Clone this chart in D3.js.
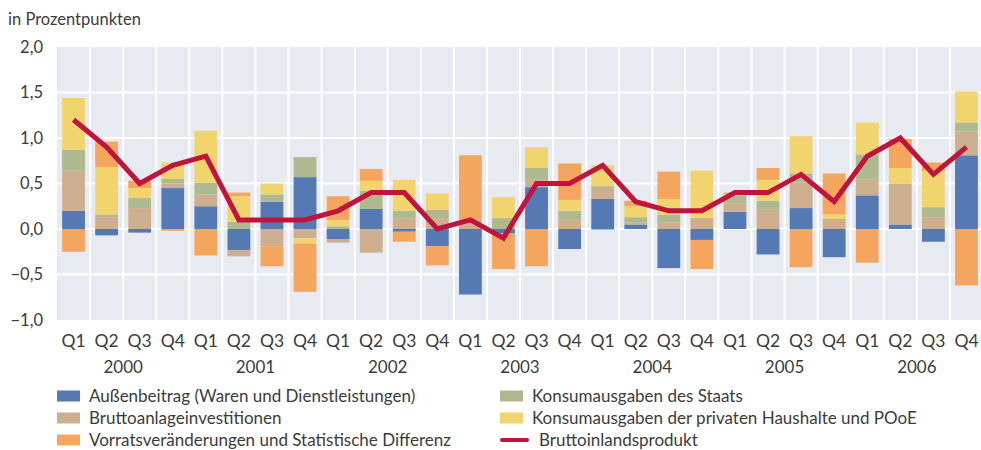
<!DOCTYPE html>
<html>
<head>
<meta charset="utf-8">
<script src="https://cdn.jsdelivr.net/npm/d3@7"></script>
<style>
  body { margin: 0; background: #fff; }
  svg text { font-family: Lato, "Open Sans", sans-serif; fill: #3c3c3c; }
</style>
</head>
<body>
<div id="chart"></div>
<script>
// Wachstumsbeiträge zum BIP, in Prozentpunkten
var years = ["2000", "2001", "2002", "2003", "2004", "2005", "2006"];
var quarters = ["Q1", "Q2", "Q3", "Q4"];

var aussenbeitrag = [0.20, -0.07, -0.04, 0.45, 0.25, -0.23, 0.30, 0.57, -0.11, 0.22, -0.03, -0.19, -0.72, -0.05, 0.46, -0.22, 0.33, 0.05, -0.43, -0.12, 0.19, -0.28, 0.23, -0.31, 0.37, 0.05, -0.14, 0.81];
var bruttoanlage  = [0.44, 0.13, 0.23, 0.05, 0.13, -0.07, -0.19, -0.10, -0.04, -0.26, 0.12, 0.12, 0.10, 0.00, 0.08, 0.10, 0.12, 0.02, 0.07, 0.12, 0.09, 0.21, 0.28, 0.10, 0.17, 0.45, 0.13, 0.26];
var staat         = [0.23, 0.03, 0.11, 0.05, 0.13, 0.08, 0.08, 0.22, 0.03, 0.20, 0.08, 0.09, 0.00, 0.12, 0.13, 0.10, 0.02, 0.06, 0.09, 0.00, 0.09, 0.10, 0.10, 0.01, 0.28, 0.00, 0.11, 0.10];
var privat        = [0.57, 0.52, 0.11, 0.18, 0.57, 0.28, 0.12, -0.06, 0.07, 0.11, 0.34, 0.18, 0.00, 0.23, 0.23, 0.12, 0.23, 0.12, 0.17, 0.52, 0.01, 0.23, 0.41, 0.05, 0.35, 0.17, 0.40, 0.34];
var vorrat        = [-0.25, 0.28, 0.08, -0.02, -0.29, 0.04, -0.22, -0.53, 0.26, 0.13, -0.11, -0.21, 0.71, -0.39, -0.41, 0.40, -0.01, 0.06, 0.30, -0.32, 0.02, 0.13, -0.42, 0.45, -0.37, 0.32, 0.09, -0.62];
var bip           = [1.2, 0.9, 0.5, 0.7, 0.8, 0.1, 0.1, 0.1, 0.2, 0.4, 0.4, 0.0, 0.1, -0.1, 0.5, 0.5, 0.7, 0.3, 0.2, 0.2, 0.4, 0.4, 0.6, 0.3, 0.8, 1.0, 0.6, 0.9];

var yTicks = [-1, -0.5, 0, 0.5, 1, 1.5, 2];

var series = [
    {key: "aussen", name: "Außenbeitrag (Waren und Dienstleistungen)", color: "#5479b3", values: aussenbeitrag},
    {key: "anlage", name: "Bruttoanlageinvestitionen", color: "#cdaf8f", values: bruttoanlage},
    {key: "staat", name: "Konsumausgaben des Staats", color: "#aeb98f", values: staat},
    {key: "privat", name: "Konsumausgaben der privaten Haushalte und POoE", color: "#f2d46e", values: privat},
    {key: "vorrat", name: "Vorratsveränderungen und Statistische Differenz", color: "#f4a55e", values: vorrat}
];

var width = 981, height = 450;
var margin = {top: 47, left: 57, right: -2, bottom: 130};
var chartWidth = width - margin.left - margin.right;
var chartHeight = height - margin.top - margin.bottom;

// one row per quarter
var rows = [];
years.forEach(function(y, yi) {
    quarters.forEach(function(q, qi) {
        var i = yi * 4 + qi;
        var row = {id: y + q, year: y, q: q, bip: bip[i]};
        series.forEach(function(s) { row[s.key] = s.values[i]; });
        rows.push(row);
    });
});

var svg = d3.select("#chart").append("svg")
    .attr("width", width)
    .attr("height", height);

var x = d3.scaleBand()
    .domain(rows.map(function(d) { return d.id; }))
    .range([margin.left, margin.left + chartWidth])
    .paddingInner(0.31)
    .paddingOuter(0.155);

var y = d3.scaleLinear()
    .domain([-1, 2])
    .range([margin.top + chartHeight, margin.top]);

// plot background
svg.append("rect")
    .attr("x", margin.left)
    .attr("y", margin.top)
    .attr("width", chartWidth)
    .attr("height", chartHeight)
    .attr("fill", "#e8eaf2");

var grid = svg.append("g").attr("class", "grid");

grid.selectAll("line.h")
    .data(yTicks.slice(1, -1))
    .enter().append("line")
    .attr("class", "h")
    .attr("x1", margin.left)
    .attr("x2", margin.left + chartWidth)
    .attr("y1", function(d) { return y(d); })
    .attr("y2", function(d) { return y(d); })
    .attr("stroke", "#fff")
    .attr("stroke-width", 2);

grid.selectAll("line.v")
    .data(d3.range(1, rows.length))
    .enter().append("line")
    .attr("class", "v")
    .attr("x1", function(i) { return margin.left + i * x.step(); })
    .attr("x2", function(i) { return margin.left + i * x.step(); })
    .attr("y1", margin.top)
    .attr("y2", margin.top + chartHeight)
    .attr("stroke", "#fff")
    .attr("stroke-width", 2);

// stacked bars
var stack = d3.stack()
    .keys(series.map(function(s) { return s.key; }))
    .offset(d3.stackOffsetDiverging);

var stacked = stack(rows);

svg.append("g").attr("class", "bars")
    .selectAll("g")
    .data(stacked)
    .enter().append("g")
    .attr("fill", function(d, i) { return series[i].color; })
    .selectAll("rect")
    .data(function(d) { return d; })
    .enter().append("rect")
    .attr("x", function(d) { return x(d.data.id); })
    .attr("width", x.bandwidth())
    .attr("y", function(d) { return y(Math.max(d[0], d[1])); })
    .attr("height", function(d) { return Math.abs(y(d[0]) - y(d[1])); });

// BIP line
var line = d3.line()
    .x(function(d) { return x(d.id) + x.bandwidth() / 2; })
    .y(function(d) { return y(d.bip); });

svg.append("path")
    .datum(rows)
    .attr("fill", "none")
    .attr("stroke", "#c0143c")
    .attr("stroke-width", 5)
    .attr("stroke-linejoin", "miter")
    .attr("d", line);

// y axis labels
var fmt = function(v) { return d3.format(".1f")(v).replace(".", ",").replace("-", "\u2212"); };

svg.append("g").attr("class", "yaxis")
    .selectAll("text")
    .data(yTicks)
    .enter().append("text")
    .attr("x", 43)
    .attr("y", function(d) { return y(d); })
    .attr("dy", "0.35em")
    .attr("text-anchor", "end")
    .style("font-size", "16.5px")
    .text(fmt);

// x axis labels
svg.append("g").attr("class", "xaxis")
    .selectAll("text")
    .data(rows)
    .enter().append("text")
    .attr("x", function(d) { return x(d.id) + x.bandwidth() / 2; })
    .attr("y", 341)
    .attr("dy", "0.35em")
    .attr("text-anchor", "middle")
    .style("font-size", "17.5px")
    .text(function(d) { return d.q; });

svg.append("g").attr("class", "years")
    .selectAll("text")
    .data(years)
    .enter().append("text")
    .attr("x", function(d) { return (x(d + "Q2") + x(d + "Q3") + x.bandwidth()) / 2; })
    .attr("y", 367)
    .attr("dy", "0.35em")
    .attr("text-anchor", "middle")
    .style("font-size", "17px")
    .text(function(d) { return d; });

// unit label
svg.append("text")
    .attr("x", 8)
    .attr("y", 25)
    .style("font-size", "16.5px")
    .text("in Prozentpunkten");

// legend
var legendItems = [
    {s: series[0], col: 0, row: 0},
    {s: series[1], col: 0, row: 1},
    {s: series[4], col: 0, row: 2},
    {s: series[2], col: 1, row: 0},
    {s: series[3], col: 1, row: 1},
    {s: null, col: 1, row: 2}
];
var legendX = [57, 500];
var legendY = [396, 418, 440];

var legend = svg.append("g").attr("class", "legend")
    .selectAll("g")
    .data(legendItems)
    .enter().append("g")
    .attr("transform", function(d) { return "translate(" + legendX[d.col] + "," + legendY[d.row] + ")"; });

legend.filter(function(d) { return d.s; })
    .append("rect")
    .attr("x", 0)
    .attr("y", -5.5)
    .attr("width", 23)
    .attr("height", 11)
    .attr("fill", function(d) { return d.s.color; });

legend.filter(function(d) { return !d.s; })
    .append("line")
    .attr("x1", 2)
    .attr("x2", 27)
    .attr("y1", 0)
    .attr("y2", 0)
    .attr("stroke", "#c0143c")
    .attr("stroke-width", 4)
    .attr("stroke-linecap", "round");

legend.append("text")
    .attr("x", function(d) { return d.s ? 32 : 39; })
    .attr("y", 0)
    .attr("dy", "0.33em")
    .style("font-size", "17px")
    .text(function(d) { return d.s ? d.s.name : "Bruttoinlandsprodukt"; });
</script>
</body>
</html>
